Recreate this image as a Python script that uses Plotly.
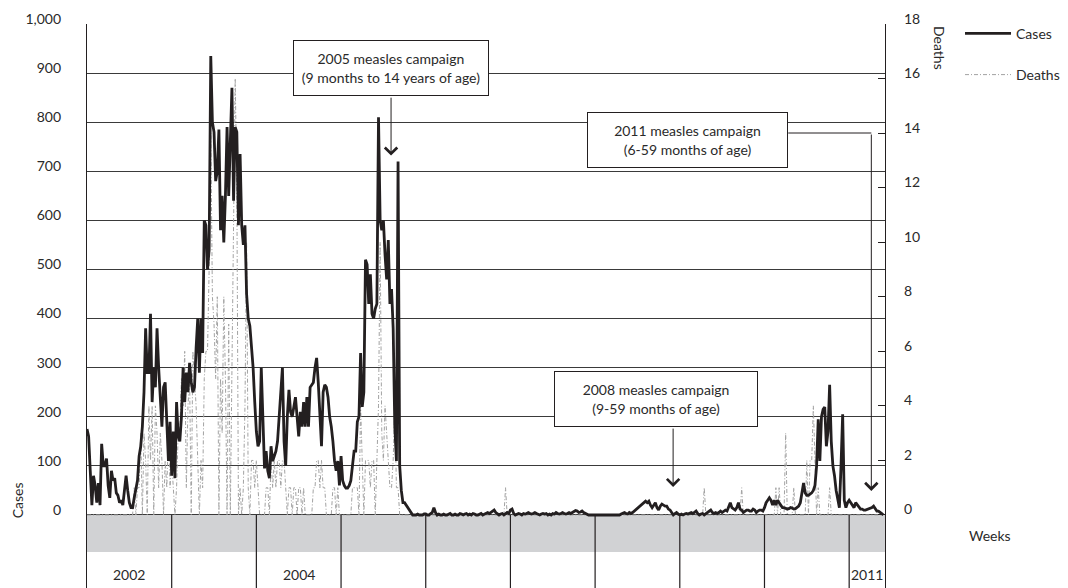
import plotly.graph_objects as go

# ---------------- data (weekly values) ----------------
year_labels = ["2002", "", "2004", "", "", "", "", "", "", "2011"]

cases_2002 = [175, 160, 90, 20, 80, 60, 25, 65, 20, 145,
              100, 100, 115, 60, 35, 90, 70, 75, 45, 40,
              25, 30, 20, 50, 80, 50, 25, 15, 15, 35,
              50, 70, 120, 140, 180, 250, 380, 290, 290, 410,
              230, 300, 260, 380, 300, 250, 180, 260, 270, 190,
              110, 190]
cases_2003 = [80, 170, 75, 230, 160, 150, 200, 300, 230, 290,
              250, 310, 270, 250, 260, 340, 400, 290, 400, 330,
              600, 590, 500, 540, 935, 800, 780, 680, 700, 785,
              580, 650, 555, 650, 790, 650, 760, 870, 640, 790,
              780, 590, 735, 590, 550, 590, 450, 400, 385, 340,
              300, 230]
cases_2004 = [170, 140, 150, 300, 200, 95, 130, 90, 75, 140,
              110, 120, 130, 150, 200, 230, 300, 150, 100, 200,
              255, 210, 200, 220, 240, 200, 160, 210, 180, 230,
              180, 240, 180, 260, 265, 270, 300, 320, 270, 200,
              140, 250, 265, 260, 240, 200, 180, 150, 110, 90,
              110, 60]
cases_2005 = [120, 70, 60, 55, 55, 60, 70, 100, 130, 130,
              190, 200, 330, 220, 250, 520, 510, 430, 490, 410,
              400, 420, 430, 810, 600, 580, 600, 530, 480, 560,
              430, 460, 380, 180, 110, 720, 100, 50, 25, 25,
              20, 15, 8, 3, 0, 0, 0, 2, 0, 0,
              0, 2]
cases_2006 = [2, 0, 0, 3, 5, 15, 5, 0, 2, 0,
              0, 2, 0, 0, 2, 3, 0, 0, 2, 0,
              0, 3, 2, 0, 2, 3, 0, 2, 0, 3,
              2, 0, 0, 2, 3, 0, 2, 3, 5, 3,
              5, 8, 10, 5, 3, 0, 2, 3, 0, 2,
              5, 3]
cases_2007 = [10, 12, 3, 0, 2, 3, 2, 0, 3, 2,
              3, 5, 3, 2, 3, 5, 3, 2, 0, 2,
              3, 2, 3, 0, 2, 0, 3, 2, 5, 3,
              2, 3, 5, 3, 2, 3, 5, 3, 5, 8,
              9, 8, 5, 6, 8, 5, 3, 2, 0, 0,
              0, 0]
cases_2008 = [0, 0, 0, 0, 0, 0, 0, 0, 0, 0,
              0, 0, 0, 0, 0, 0, 2, 3, 5, 3,
              2, 5, 3, 5, 8, 10, 12, 15, 18, 22,
              25, 28, 25, 28, 20, 15, 20, 25, 15, 10,
              18, 22, 20, 18, 18, 12, 10, 5, 0, 3,
              5, 2]
cases_2009 = [0, 2, 0, 2, 3, 2, 3, 5, 3, 5,
              8, 3, 0, 2, 3, 0, 3, 5, 8, 10,
              5, 3, 5, 3, 5, 8, 5, 8, 10, 8,
              15, 25, 15, 12, 10, 15, 25, 12, 10, 5,
              8, 10, 10, 8, 8, 12, 10, 5, 8, 10,
              10, 8]
cases_2010 = [15, 25, 30, 35, 30, 20, 30, 20, 30, 25,
              18, 15, 15, 14, 12, 13, 15, 14, 12, 13,
              15, 18, 25, 50, 65, 45, 40, 40, 42, 45,
              50, 60, 100, 195, 110, 200, 215, 220, 140, 170,
              265, 150, 100, 80, 50, 30, 15, 100, 205, 30,
              15, 25]
cases_2011 = [30, 25, 20, 15, 25, 20, 15, 12, 12, 10,
              10, 11, 12, 14, 15, 18, 12, 8, 8, 6,
              3, 0]

deaths_2002 = [0] * 29 + [1, 0, 1, 1, 3, 0, 3, 2, 0, 4,
                          2, 4, 0, 4, 3, 1, 3, 2, 0, 2,
                          1, 3, 1]
deaths_2003 = [2, 1, 0, 1, 3, 3, 5, 4, 6, 1,
               4, 5, 0, 6, 5, 4, 2, 0, 2, 1,
               5, 6, 6, 9, 14, 8, 7, 5, 8, 0,
               5, 3, 8, 5, 0, 7, 0, 5, 9, 16,
               12, 0, 1, 0, 1, 4, 10, 1, 0, 2,
               2, 1]
deaths_2004 = [2, 1, 0, 0, 0, 0, 1, 1, 0, 2,
               1, 2, 1, 2, 2, 1, 2, 2, 1, 0,
               1, 1, 0, 1, 1, 0, 1, 1, 0, 1,
               0, 0, 0, 0, 0, 1, 1, 2, 2, 1,
               2, 1, 1, 0, 0, 0, 0, 1, 1, 0,
               1, 0]
deaths_2005 = [0, 0, 0, 0, 0, 0, 0, 1, 1, 1,
               1, 0, 4, 2, 0, 2, 2, 2, 1, 2,
               2, 0, 2, 4, 10, 3, 2, 4, 3, 2,
               1, 1, 2, 4, 1, 1, 0, 0, 0, 0,
               0, 0, 0, 0, 0, 0, 0, 0, 0, 0,
               0, 0]
deaths_2006 = [0, 0, 0, 0, 0, 0, 0, 0, 0, 0,
               0, 0, 0, 0, 0, 0, 0, 0, 0, 0,
               0, 0, 0, 0, 0, 0, 0, 0, 0, 0,
               0, 0, 0, 0, 0, 0, 0, 0, 0, 0,
               0, 0, 0, 0, 0, 0, 0, 0, 0, 1,
               0, 0]
deaths_2007 = [0] * 52
deaths_2008 = [0] * 52
deaths_2009 = [0, 0, 0, 0, 0, 0, 0, 0, 0, 0,
               0, 0, 0, 0, 0, 1, 0, 0, 0, 0,
               0, 0, 0, 0, 0, 0, 0, 0, 0, 0,
               0, 0, 0, 0, 0, 0, 0, 0, 1, 0,
               0, 0, 0, 0, 0, 0, 0, 0, 0, 0,
               0, 0]
deaths_2010 = [0, 0, 0, 0, 0, 0, 0, 1, 0, 1,
               0, 0, 0, 3, 0, 0, 0, 0, 1, 0,
               0, 0, 0, 0, 0, 0, 2, 0, 2, 2,
               4, 2, 0, 1, 0, 0, 0, 0, 0, 0,
               1, 0, 0, 0, 0, 0, 0, 0, 0, 0,
               0, 0]
deaths_2011 = [0] * 22

campaign_texts = ["2005 measles campaign<br>(9 months to 14 years of age)",
                  "2008 measles campaign<br>(9-59 months of age)",
                  "2011 measles campaign<br>(6-59 months of age)"]

# ---------------- assemble ----------------
cases = (cases_2002 + cases_2003 + cases_2004 + cases_2005 + cases_2006 +
         cases_2007 + cases_2008 + cases_2009 + cases_2010 + cases_2011)
deaths = (deaths_2002 + deaths_2003 + deaths_2004 + deaths_2005 + deaths_2006 +
          deaths_2007 + deaths_2008 + deaths_2009 + deaths_2010 + deaths_2011)
weeks = list(range(len(cases)))

WPY = 52
N = len(cases)
CASES_MAX = 1000
DEATHS_MAX = 18
Y_BOTTOM = -148.7          # room for the year strip below zero
BAND_BOTTOM = -75.4
DEATHS_RANGE = [Y_BOTTOM * DEATHS_MAX / CASES_MAX, DEATHS_MAX]
DEATHS_TICKS = list(range(0, DEATHS_MAX + 1, 2))

FONT = "Lato, 'Open Sans', sans-serif"
TXT = "#2a2a2a"

fig = go.Figure()
fig.add_trace(go.Scatter(
    x=weeks, y=deaths, name="Deaths", mode="lines", yaxis="y",
    line=dict(color="#a3a3a3", width=1, dash="4px,2px,1px,2px"),
    legendrank=2, legendgroup="d"))
fig.add_trace(go.Scatter(
    x=weeks, y=cases, name="Cases", mode="lines", yaxis="y2",
    line=dict(color="#231f20", width=2.8),
    legendrank=1, legendgroup="c"))

shapes = []
# grey strip below the zero line
shapes.append(dict(type="rect", xref="x", yref="y2", x0=0, x1=N,
                   y0=BAND_BOTTOM, y1=0, fillcolor="#d1d2d4",
                   line=dict(width=0), layer="below"))
# year separators
for k in range(1, len(year_labels)):
    shapes.append(dict(type="line", xref="x", yref="y2", x0=k * WPY, x1=k * WPY,
                       y0=Y_BOTTOM, y1=0, line=dict(color="#231f20", width=1.2),
                       layer="above"))
# 2011 elbow connector (horizontal part)
shapes.append(dict(type="line", xref="x", yref="y2", x0=430.6, x1=481.6,
                   y0=778, y1=778, line=dict(color="#231f20", width=1)))

ann = []
# deaths axis tick labels (right side)
for v in DEATHS_TICKS:
    ann.append(dict(x=1.0213, y=v, xref="paper", yref="y", text=str(v),
                    showarrow=False, xanchor="left", yanchor="middle", yshift=6,
                    font=dict(size=14, color=TXT, family=FONT)))
# year labels
for k, lab in enumerate(year_labels):
    if lab:
        x0 = k * WPY
        x1 = min((k + 1) * WPY, N)
        ann.append(dict(x=(x0 + x1) / 2, y=-122, xref="x", yref="y2", text=lab,
                        showarrow=False, xanchor="center",
                        font=dict(size=14, color=TXT, family=FONT)))

box_style = dict(showarrow=False, bgcolor="white", bordercolor="#231f20",
                 borderwidth=1, borderpad=7, height=40,
                 font=dict(size=14, color=TXT, family=FONT))
ann.append(dict(x=186.6, y=910, xref="x", yref="y2", text=campaign_texts[0],
                width=180, xanchor="center", **box_style))
ann.append(dict(x=349.2, y=237, xref="x", yref="y2", text=campaign_texts[1],
                width=188, xanchor="center", **box_style))
ann.append(dict(x=430.6, y=763, xref="x", yref="y2", text=campaign_texts[2],
                width=185, xanchor="right", **box_style))

arrow_style = dict(text="", showarrow=True, arrowhead=4, arrowsize=2.4,
                   arrowwidth=1, arrowcolor="#231f20", standoff=0,
                   startstandoff=0, xref="x", yref="y2", axref="x", ayref="y2")
ann.append(dict(x=186.7, y=732, ax=186.7, ay=853, **arrow_style))
ann.append(dict(x=359.9, y=57, ax=359.9, ay=179, **arrow_style))
ann.append(dict(x=481.6, y=49, ax=481.6, ay=778, **arrow_style))

# axis titles
ann.append(dict(x=-0.0877, y=30, xref="paper", yref="y2", text="Cases",
                textangle=-90, showarrow=False, xanchor="center", yanchor="middle",
                font=dict(size=14, color=TXT, family=FONT)))
ann.append(dict(x=1.069, y=951, xref="paper", yref="y2", text="Deaths",
                textangle=90, showarrow=False, xanchor="center", yanchor="middle",
                font=dict(size=14, color=TXT, family=FONT)))
ann.append(dict(x=1.1316, y=-41, xref="paper", yref="y2", text="Weeks",
                showarrow=False, xanchor="center", yanchor="middle",
                font=dict(size=14, color=TXT, family=FONT)))

fig.update_layout(
    width=1068, height=588,
    margin=dict(l=87, r=183, t=24, b=0, pad=0, autoexpand=False),
    paper_bgcolor="white", plot_bgcolor="white",
    font=dict(family=FONT, size=14, color=TXT),
    showlegend=True,
    legend=dict(x=1.094, y=1.011, xanchor="left", yanchor="top",
                font=dict(size=14, color=TXT, family=FONT),
                tracegroupgap=20, itemwidth=46, bgcolor="rgba(0,0,0,0)"),
    xaxis=dict(range=[0, N], showgrid=False, zeroline=False, showline=False,
               showticklabels=False, ticks=""),
    # deaths axis (right): inside tick marks, labels drawn as annotations
    yaxis=dict(range=DEATHS_RANGE, side="right",
               tickvals=DEATHS_TICKS, ticks="inside", ticklen=7,
               tickcolor="#231f20", tickwidth=1.2, showticklabels=False,
               showgrid=False, zeroline=False, showline=True,
               linecolor="#231f20", linewidth=1.2),
    # cases axis (left, with the horizontal grid)
    yaxis2=dict(range=[Y_BOTTOM, CASES_MAX], side="left", overlaying="y",
                tickvals=list(range(0, CASES_MAX + 1, 100)), tickformat=",d",
                ticks="", showgrid=True, gridcolor="#3a3a3a", gridwidth=1.2,
                zeroline=False, showline=True, linecolor="#231f20", linewidth=1.2,
                ticklabelstandoff=22, ticklabelshift=-5,
                tickfont=dict(size=14, color=TXT, family=FONT)),
    shapes=shapes,
    annotations=ann,
)

fig.write_html("out.html")
